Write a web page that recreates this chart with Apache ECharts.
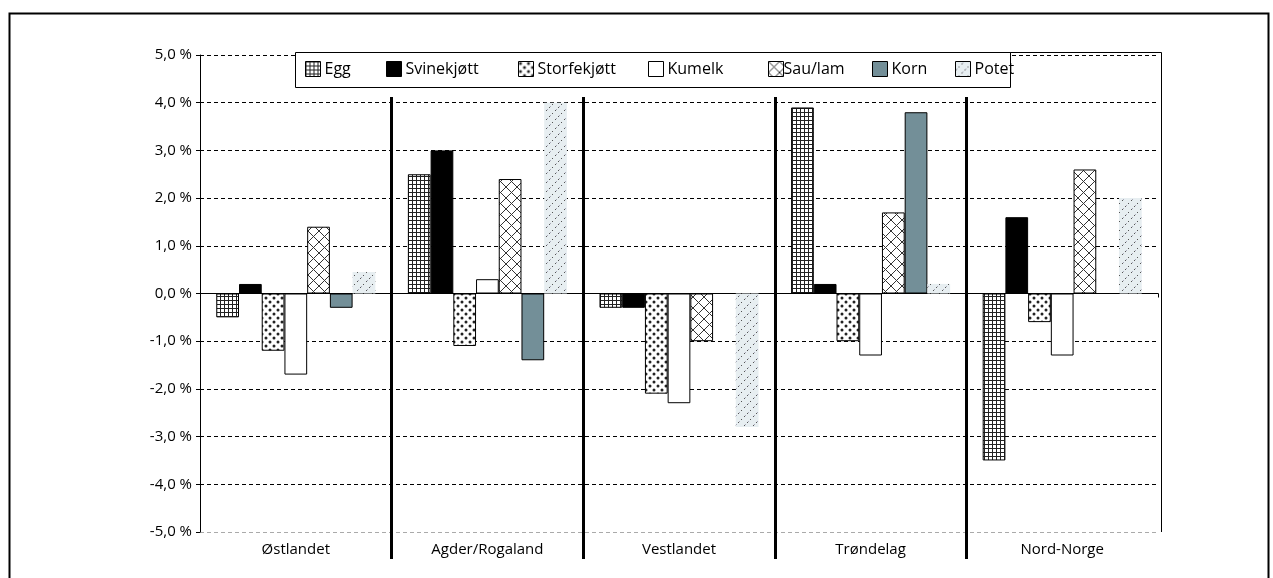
<!DOCTYPE html>
<html>
<head>
<meta charset="utf-8">
<script src="https://cdn.jsdelivr.net/npm/echarts@6/dist/echarts.min.js"></script>
<style>
html,body{margin:0;padding:0;background:#fff;}
#c{width:1273px;height:578px;}
</style>
</head>
<body>
<div id="c"></div>
<script>
const categories = ['Østlandet', 'Agder/Rogaland', 'Vestlandet', 'Trøndelag', 'Nord-Norge'];
const seriesNames = ['Egg', 'Svinekjøtt', 'Storfekjøtt', 'Kumelk', 'Sau/lam', 'Korn', 'Potet'];
const egg        = [-0.5, 2.5, -0.3, 3.9, -3.5];
const svinekjott = [0.2, 3.0, -0.3, 0.2, 1.6];
const storfekjott= [-1.2, -1.1, -2.1, -1.0, -0.6];
const kumelk     = [-1.7, 0.3, -2.3, -1.3, -1.3];
const saulam     = [1.4, 2.4, -1.0, 1.7, 2.6];
const korn       = [-0.3, -1.4, 0, 3.8, 0];
const potet      = [0.45, 4.0, -2.8, 0.2, 2.0];
const yMin = -5, yMax = 5, yStep = 1;

function tile(w, h, draw) {
  const c = document.createElement('canvas');
  c.width = w; c.height = h;
  const g = c.getContext('2d');
  draw(g);
  return { image: c, repeat: 'repeat' };
}
const pGrid = tile(4, 4, g => {
  g.fillStyle = '#fff'; g.fillRect(0, 0, 4, 4);
  g.fillStyle = '#222'; g.fillRect(0, 0, 4, 1); g.fillRect(0, 0, 1, 4);
});
const pDots = tile(8, 8, g => {
  g.fillStyle = '#fff'; g.fillRect(0, 0, 8, 8);
  g.fillStyle = '#222';
  g.beginPath(); g.arc(2, 2, 1.5, 0, Math.PI * 2); g.fill();
  g.beginPath(); g.arc(6, 6, 1.5, 0, Math.PI * 2); g.fill();
});
const pCross = tile(11, 11, g => {
  g.fillStyle = '#fff'; g.fillRect(0, 0, 11, 11);
  g.strokeStyle = '#333'; g.lineWidth = 1;
  g.beginPath(); g.moveTo(0, 0); g.lineTo(11, 11); g.moveTo(11, 0); g.lineTo(0, 11); g.stroke();
});
const pPotet = tile(9, 9, g => {
  g.fillStyle = '#e7eef1'; g.fillRect(0, 0, 9, 9);
  g.fillStyle = '#555';
  g.fillRect(0, 8, 1, 1); g.fillRect(3, 5, 1, 1); g.fillRect(6, 2, 1, 1);
  g.fillStyle = '#aab';
  g.fillRect(1, 7, 1, 1); g.fillRect(7, 1, 1, 1);
});

const fills = [pGrid, '#000000', pDots, '#ffffff', pCross, '#738f98', pPotet];
const borders = [1, 1, 1, 1, 1, 1, 0];
const dataSets = [egg, svinekjott, storfekjott, kumelk, saulam, korn, potet];
const legendLeft = [305, 386, 518, 648, 768, 872, 955];
const legendTextPad = [-1, -1, -1, -1, -5, -1, -1];

const font = 'Open Sans';
const chart = echarts.init(document.getElementById('c'));
const splitColors = [];
for (let v = yMin; v <= yMax + 1e-9; v += yStep) splitColors.push(Math.abs(v - yMin) < 1e-9 ? '#aaaaaa' : '#000000');

chart.setOption({
  animation: false,
  backgroundColor: '#fff',
  graphic: [
    {
      type: 'rect', left: 7, top: 11, shape: { width: 1259, height: 600 },
      style: { fill: 'none', stroke: '#000', lineWidth: 2 }, silent: true, z: -1
    },
    {
      type: 'polyline', silent: true, z: 4,
      shape: { points: [[1010, 52.5], [1161.5, 52.5], [1161.5, 532]] },
      style: { stroke: '#000', lineWidth: 1, fill: null }
    },
    {
      type: 'rect', left: 295, top: 52, shape: { width: 715, height: 35 },
      style: { fill: '#fff', stroke: '#000', lineWidth: 1 }, silent: true, z: 5
    }
  ],
  legend: seriesNames.map((n, i) => ({
    left: legendLeft[i], top: 61, padding: 0, z: 6,
    data: [{ name: n, icon: 'rect', itemStyle: { borderColor: '#000', borderWidth: 1 } }],
    itemWidth: 15, itemHeight: 15,
    textStyle: { fontFamily: font, fontSize: 16, color: '#000', padding: [0, 0, 0, legendTextPad[i]] }
  })),
  grid: [
    { left: 200, right: 115, top: 55, bottom: 46 },
    { left: 200, right: 115, top: 97, bottom: 19 }
  ],
  xAxis: [
    {
      type: 'category', data: categories, gridIndex: 0, position: 'bottom',
      axisLine: { show: false, onZero: false }, axisTick: { show: false },
      axisLabel: { fontFamily: font, fontSize: 15, color: '#000', margin: 10 }
    },
    {
      type: 'category', data: categories, gridIndex: 0, position: 'bottom',
      axisLine: { onZero: true, lineStyle: { color: '#000', width: 1 } },
      axisTick: { show: true, length: 4, lineStyle: { color: '#000' } },
      axisLabel: { show: false }
    },
    {
      type: 'category', data: categories, gridIndex: 1, position: 'bottom',
      axisLine: { show: false, onZero: false }, axisTick: { show: false }, axisLabel: { show: false },
      splitLine: { show: true, showMinLine: false, showMaxLine: false, lineStyle: { color: '#000', width: 3 } }
    }
  ],
  yAxis: [
    {
      type: 'value', min: yMin, max: yMax, interval: yStep, gridIndex: 0,
      axisLine: { show: true, onZero: false, lineStyle: { color: '#000' } },
      axisTick: { show: true, length: 4, lineStyle: { color: '#000' } },
      axisLabel: {
        fontFamily: font, fontSize: 15, color: '#000', margin: 8,
        formatter: v => v.toFixed(1).replace('.', ',') + ' %'
      },
      splitLine: { show: true, lineStyle: { color: splitColors, type: [4, 3], width: 1 } }
    },
    { type: 'value', gridIndex: 1, min: 0, max: 1, show: false }
  ],
  series: seriesNames.map((n, i) => ({
    name: n, type: 'bar', xAxisIndex: 1, yAxisIndex: 0,
    data: dataSets[i],
    barGap: '0%', barCategoryGap: '17%',
    itemStyle: { color: fills[i], borderColor: '#000', borderWidth: borders[i] },
    z: 3
  }))
});
</script>
</body>
</html>
